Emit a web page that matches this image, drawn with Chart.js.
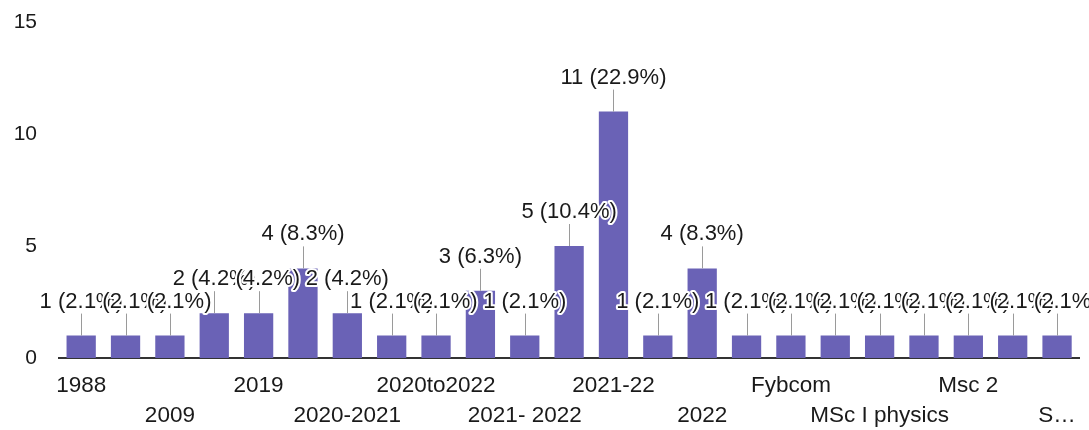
<!DOCTYPE html>
<html>
<head>
<meta charset="utf-8">
<script src="https://cdn.jsdelivr.net/npm/chart.js@4.4.1/dist/chart.umd.min.js"></script>
<style>
  html, body { margin: 0; padding: 0; background: #ffffff; }
  #wrap { width: 1089px; height: 430px; position: relative; }
</style>
</head>
<body>
<div id="wrap"><canvas id="c"></canvas></div>
<script>
// Categories (answers, sorted as in the form summary). Only every other one is shown on the axis.
const categories = [
  "1988", "2003", "2009", "2018", "2019", "2020", "2020-2021", "2020-2022",
  "2020to2022", "2021", "2021- 2022", "2021-2022", "2021-22", "2021-23",
  "2022", "B.Sc", "Fybcom", "M.Sc", "MSc I physics", "MSc physics",
  "Msc 2", "Msc physics", "S\u2026"
];
// Number of responses for each category
const counts = [1, 1, 1, 2, 2, 4, 2, 1, 1, 3, 1, 5, 11, 1, 4, 1, 1, 1, 1, 1, 1, 1, 1];
// Y axis ticks
const yTicks = [0, 5, 10, 15];

const total = counts.reduce((a, b) => a + b, 0);
const FONT = "'Liberation Sans', Arial, sans-serif";

const barLabels = {
  id: 'barLabels',
  afterDatasetsDraw(chart) {
    const ctx = chart.ctx;
    const meta = chart.getDatasetMeta(0);
    ctx.save();
    ctx.font = "22px " + FONT;
    ctx.textAlign = 'center';
    ctx.textBaseline = 'middle';
    meta.data.forEach((bar, i) => {
      const v = counts[i];
      const pct = (v / total * 100).toFixed(1);
      const txt = v + " (" + pct + "%)";
      const top = bar.y;
      const ty = top - 34;
      // leader line
      ctx.strokeStyle = '#9a9a9a';
      ctx.lineWidth = 1;
      ctx.beginPath();
      ctx.moveTo(Math.round(bar.x) + 0.5, ty + 12);
      ctx.lineTo(Math.round(bar.x) + 0.5, top);
      ctx.stroke();
      // text with white halo
      ctx.lineWidth = 4;
      ctx.strokeStyle = '#ffffff';
      ctx.lineJoin = 'round';
      ctx.strokeText(txt, bar.x, ty);
      ctx.fillStyle = '#1a1a1a';
      ctx.fillText(txt, bar.x, ty);
    });
    ctx.restore();
  }
};

new Chart(document.getElementById('c'), {
  type: 'bar',
  data: {
    labels: categories,
    datasets: [{
      data: counts,
      backgroundColor: '#6a62b6',
      borderWidth: 0,
      barPercentage: 0.66,
      categoryPercentage: 1.0
    }]
  },
  options: {
    responsive: true,
    maintainAspectRatio: false,
    animation: false,
    layout: { padding: { top: 22, right: 9, left: 0, bottom: 0 } },
    plugins: { legend: { display: false }, tooltip: { enabled: false } },
    scales: {
      x: {
        afterFit: (scale) => {
          scale.height = 72;
          scale.paddingTop = 0; scale.paddingBottom = 0;
        },
        grid: { display: false, drawTicks: false },
        border: { display: true, color: '#333333', width: 2 },
        ticks: {
          autoSkip: false,
          maxRotation: 0,
          minRotation: 0,
          padding: 13,
          color: '#1a1a1a',
          font: { family: FONT, size: 22.5, lineHeight: 1.33 },
          callback: function (value, index) {
            if (index % 2 === 1) return '';
            const lab = categories[index];
            return (index % 4 === 0) ? [lab, ''] : ['', lab];
          }
        }
      },
      y: {
        min: 0,
        max: 15,
        afterBuildTicks: (scale) => { scale.ticks = yTicks.map(v => ({ value: v })); },
        afterFit: (scale) => {
          scale.width = 59;
          scale.paddingTop = 0; scale.paddingBottom = 0;
        },
        grid: { display: false, drawTicks: false },
        border: { display: false },
        ticks: {
          padding: 22,
          color: '#1a1a1a',
          font: { family: FONT, size: 21 }
        }
      }
    }
  },
  plugins: [barLabels]
});
</script>
</body>
</html>
